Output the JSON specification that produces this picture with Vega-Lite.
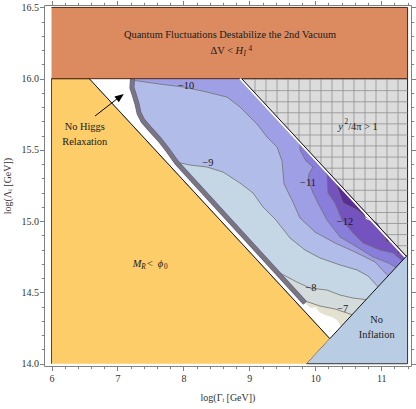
{
"$schema":"https://vega.github.io/schema/vega-lite/v6.json",
"width":367,"height":361,"autosize":{"type":"none"},
"padding":{"left":44,"top":5,"right":5,"bottom":43},
"background":"white",
"config":{"view":{"stroke":null},
"axis":{"grid":false,"domainColor":"#808080","tickColor":"#808080","labelColor":"#333333","labelFont":"Liberation Serif","labelFontSize":10,"titleFont":"Liberation Serif","titleFontSize":10,"titleFontWeight":"normal","titleColor":"#333333","labelFlush":false,"labelOverlap":false,"tickWidth":1,"domainWidth":1}},
"datasets":{
"reg":[
{"p":"r1","i":0,"x":6,"y":16},{"p":"r1","i":1,"x":11.4,"y":16},{"p":"r1","i":2,"x":11.4,"y":16.5},{"p":"r1","i":3,"x":6,"y":16.5},
{"p":"r2","i":0,"x":6,"y":14},{"p":"r2","i":1,"x":6,"y":16},{"p":"r2","i":2,"x":6.573,"y":16},{"p":"r2","i":3,"x":10.2215,"y":14.176},{"p":"r2","i":4,"x":9.87,"y":14},
{"p":"r3","i":0,"x":9.87,"y":14},{"p":"r3","i":1,"x":11.4,"y":14},{"p":"r3","i":2,"x":11.4,"y":14.765},{"p":"r3","i":3,"x":11.381,"y":14.754},
{"p":"r4","i":0,"x":8.884,"y":16},{"p":"r4","i":1,"x":11.4,"y":16},{"p":"r4","i":2,"x":11.4,"y":14.765},{"p":"r4","i":3,"x":11.381,"y":14.754}
],
"grid":[
{"x":9.086,"x2":9.086,"y":15.899,"y2":16},{"x":9.253,"x2":9.253,"y":15.8155,"y2":16},{"x":9.42,"x2":9.42,"y":15.732,"y2":16},{"x":9.587,"x2":9.587,"y":15.6485,"y2":16},{"x":9.754,"x2":9.754,"y":15.565,"y2":16},{"x":9.92,"x2":9.92,"y":15.482,"y2":16},{"x":10.087,"x2":10.087,"y":15.3985,"y2":16},{"x":10.254,"x2":10.254,"y":15.315,"y2":16},{"x":10.421,"x2":10.421,"y":15.2315,"y2":16},{"x":10.587,"x2":10.587,"y":15.1485,"y2":16},{"x":10.754,"x2":10.754,"y":15.065,"y2":16},{"x":10.921,"x2":10.921,"y":14.9815,"y2":16},{"x":11.088,"x2":11.088,"y":14.898,"y2":16},{"x":11.255,"x2":11.255,"y":14.8145,"y2":16},
{"x":9.052,"x2":11.4,"y":15.916,"y2":15.916},{"x":9.208,"x2":11.4,"y":15.838,"y2":15.838},{"x":9.362,"x2":11.4,"y":15.761,"y2":15.761},{"x":9.518,"x2":11.4,"y":15.683,"y2":15.683},{"x":9.674,"x2":11.4,"y":15.605,"y2":15.605},{"x":9.828,"x2":11.4,"y":15.528,"y2":15.528},{"x":9.984,"x2":11.4,"y":15.45,"y2":15.45},{"x":10.14,"x2":11.4,"y":15.372,"y2":15.372},{"x":10.294,"x2":11.4,"y":15.295,"y2":15.295},{"x":10.45,"x2":11.4,"y":15.217,"y2":15.217},{"x":10.606,"x2":11.4,"y":15.139,"y2":15.139},{"x":10.762,"x2":11.4,"y":15.061,"y2":15.061},{"x":10.916,"x2":11.4,"y":14.984,"y2":14.984},{"x":11.072,"x2":11.4,"y":14.906,"y2":14.906},{"x":11.228,"x2":11.4,"y":14.828,"y2":14.828}
],
"cf":[
{"p":"a0","i":0,"x":6.573,"y":16,"c":0},{"p":"a0","i":1,"x":8.884,"y":16,"c":0},{"p":"a0","i":2,"x":11.381,"y":14.754,"c":0},{"p":"a0","i":3,"x":10.2215,"y":14.176,"c":0},
{"p":"a1","i":0,"x":9.799,"y":14.447,"c":1},{"p":"a1","i":1,"x":10.072,"y":14.405,"c":1},{"p":"a1","i":2,"x":10.299,"y":14.384,"c":1},{"p":"a1","i":3,"x":10.557,"y":14.344,"c":1},{"p":"a1","i":4,"x":11.381,"y":14.754,"c":0},{"p":"a1","i":5,"x":8.884,"y":16,"c":0},{"p":"a1","i":6,"x":6.573,"y":16,"c":0},{"p":"a1","i":7,"x":9.679,"y":14.447,"c":0},
{"p":"a2","i":0,"x":9.24,"y":14.742,"c":1},{"p":"a2","i":1,"x":9.465,"y":14.636,"c":1},{"p":"a2","i":2,"x":9.723,"y":14.573,"c":1},{"p":"a2","i":3,"x":9.92,"y":14.531,"c":1},{"p":"a2","i":4,"x":10.178,"y":14.517,"c":1},{"p":"a2","i":5,"x":10.375,"y":14.482,"c":1},{"p":"a2","i":6,"x":10.572,"y":14.461,"c":1},{"p":"a2","i":7,"x":10.769,"y":14.45,"c":1},{"p":"a2","i":8,"x":11.381,"y":14.754,"c":0},{"p":"a2","i":9,"x":8.884,"y":16,"c":0},{"p":"a2","i":10,"x":6.573,"y":16,"c":0},{"p":"a2","i":11,"x":9.089,"y":14.742,"c":0},
{"p":"a3","i":0,"x":7.89,"y":15.415,"c":1},{"p":"a3","i":1,"x":8.1,"y":15.394,"c":1},{"p":"a3","i":2,"x":8.358,"y":15.38,"c":1},{"p":"a3","i":3,"x":8.601,"y":15.345,"c":1},{"p":"a3","i":4,"x":8.859,"y":15.268,"c":1},{"p":"a3","i":5,"x":9.056,"y":15.198,"c":1},{"p":"a3","i":6,"x":9.207,"y":15.1,"c":1},{"p":"a3","i":7,"x":9.405,"y":15.008,"c":1},{"p":"a3","i":8,"x":9.617,"y":14.882,"c":1},{"p":"a3","i":9,"x":9.844,"y":14.798,"c":1},{"p":"a3","i":10,"x":10.072,"y":14.742,"c":1},{"p":"a3","i":11,"x":10.375,"y":14.693,"c":1},{"p":"a3","i":12,"x":10.633,"y":14.658,"c":1},{"p":"a3","i":13,"x":10.8,"y":14.616,"c":1},{"p":"a3","i":14,"x":10.951,"y":14.54,"c":1},{"p":"a3","i":15,"x":11.381,"y":14.754,"c":0},{"p":"a3","i":16,"x":8.884,"y":16,"c":0},{"p":"a3","i":17,"x":6.573,"y":16,"c":0},{"p":"a3","i":18,"x":7.743,"y":15.415,"c":0},
{"p":"a4","i":0,"x":7.22,"y":15.99,"c":1},{"p":"a4","i":1,"x":7.645,"y":15.962,"c":1},{"p":"a4","i":2,"x":8.009,"y":15.941,"c":1},{"p":"a4","i":3,"x":8.358,"y":15.906,"c":1},{"p":"a4","i":4,"x":8.661,"y":15.871,"c":1},{"p":"a4","i":5,"x":8.859,"y":15.801,"c":1},{"p":"a4","i":6,"x":9.116,"y":15.682,"c":1},{"p":"a4","i":7,"x":9.268,"y":15.591,"c":1},{"p":"a4","i":8,"x":9.42,"y":15.521,"c":1},{"p":"a4","i":9,"x":9.496,"y":15.423,"c":1},{"p":"a4","i":10,"x":9.526,"y":15.261,"c":1},{"p":"a4","i":11,"x":9.647,"y":15.149,"c":1},{"p":"a4","i":12,"x":9.768,"y":15.023,"c":1},{"p":"a4","i":13,"x":9.996,"y":14.924,"c":1},{"p":"a4","i":14,"x":10.299,"y":14.847,"c":1},{"p":"a4","i":15,"x":10.603,"y":14.784,"c":1},{"p":"a4","i":16,"x":10.906,"y":14.714,"c":1},{"p":"a4","i":17,"x":11.103,"y":14.6165,"c":1},{"p":"a4","i":18,"x":11.381,"y":14.754,"c":0},{"p":"a4","i":19,"x":8.884,"y":16,"c":0},{"p":"a4","i":20,"x":7.22,"y":16,"c":0},
{"p":"a5","i":0,"x":9.768,"y":15.558,"c":1},{"p":"a5","i":1,"x":9.768,"y":15.501,"c":1},{"p":"a5","i":2,"x":9.859,"y":15.423,"c":1},{"p":"a5","i":3,"x":9.966,"y":15.381,"c":1},{"p":"a5","i":4,"x":9.905,"y":15.332,"c":1},{"p":"a5","i":5,"x":9.89,"y":15.29,"c":1},{"p":"a5","i":6,"x":9.966,"y":15.198,"c":1},{"p":"a5","i":7,"x":10.072,"y":15.1,"c":1},{"p":"a5","i":8,"x":10.178,"y":15.008,"c":1},{"p":"a5","i":9,"x":10.375,"y":14.889,"c":1},{"p":"a5","i":10,"x":10.633,"y":14.819,"c":1},{"p":"a5","i":11,"x":10.876,"y":14.749,"c":1},{"p":"a5","i":12,"x":11.103,"y":14.708,"c":1},{"p":"a5","i":13,"x":11.224,"y":14.677,"c":1},{"p":"a5","i":14,"x":11.381,"y":14.754,"c":0},
{"p":"a6","i":0,"x":10.148,"y":15.368,"c":1},{"p":"a6","i":1,"x":10.178,"y":15.324,"c":1},{"p":"a6","i":2,"x":10.193,"y":15.198,"c":1},{"p":"a6","i":3,"x":10.299,"y":15.128,"c":1},{"p":"a6","i":4,"x":10.405,"y":15.008,"c":1},{"p":"a6","i":5,"x":10.572,"y":14.917,"c":1},{"p":"a6","i":6,"x":10.724,"y":14.847,"c":1},{"p":"a6","i":7,"x":10.981,"y":14.798,"c":1},{"p":"a6","i":8,"x":11.178,"y":14.777,"c":1},{"p":"a6","i":9,"x":11.315,"y":14.7225,"c":1},{"p":"a6","i":10,"x":11.381,"y":14.754,"c":0},
{"p":"a7","i":0,"x":10.299,"y":15.2925,"c":1},{"p":"a7","i":1,"x":10.33,"y":15.24,"c":1},{"p":"a7","i":2,"x":10.421,"y":15.128,"c":1},{"p":"a7","i":3,"x":10.633,"y":15.079,"c":1},{"p":"a7","i":4,"x":10.784,"y":15.023,"c":1},{"p":"a7","i":5,"x":10.936,"y":14.988,"c":1},{"p":"a7","i":6,"x":11.027,"y":14.918,"c":1},{"p":"a7","i":7,"x":11.088,"y":14.847,"c":1},{"p":"a7","i":8,"x":11.133,"y":14.8755,"c":1},
{"p":"a8","i":0,"x":11.224,"y":14.83,"c":1},{"p":"a8","i":1,"x":11.254,"y":14.765,"c":1},{"p":"a8","i":2,"x":11.3,"y":14.792,"c":1},
{"p":"a9","i":0,"x":10.739,"y":15.0725,"c":0},{"p":"a9","i":1,"x":10.769,"y":15.015,"c":0},{"p":"a9","i":2,"x":10.86,"y":15.001,"c":0},{"p":"a9","i":3,"x":10.89,"y":14.997,"c":0}
],
"wb":[
{"p":"w","i":0,"x":6.573,"y":16},{"p":"w","i":1,"x":7.228,"y":16},{"p":"w","i":2,"x":7.22,"y":15.935},{"p":"w","i":3,"x":7.251,"y":15.893},{"p":"w","i":4,"x":7.297,"y":15.822},{"p":"w","i":5,"x":7.327,"y":15.759},{"p":"w","i":6,"x":7.388,"y":15.703},{"p":"w","i":7,"x":7.494,"y":15.647},{"p":"w","i":8,"x":7.645,"y":15.57},{"p":"w","i":9,"x":7.763,"y":15.5},{"p":"w","i":10,"x":7.9,"y":15.41},{"p":"w","i":11,"x":9.845,"y":14.426},{"p":"w","i":12,"x":9.935,"y":14.391},{"p":"w","i":13,"x":10.011,"y":14.398},{"p":"w","i":14,"x":10.057,"y":14.363},{"p":"w","i":15,"x":10.148,"y":14.342},{"p":"w","i":16,"x":10.254,"y":14.328},{"p":"w","i":17,"x":10.33,"y":14.307},{"p":"w","i":18,"x":10.39,"y":14.26},{"p":"w","i":19,"x":10.2215,"y":14.176},
{"p":"b","i":0,"x":7.228,"y":16},{"p":"b","i":1,"x":7.22,"y":15.935},{"p":"b","i":2,"x":7.251,"y":15.893},{"p":"b","i":3,"x":7.297,"y":15.822},{"p":"b","i":4,"x":7.327,"y":15.759},{"p":"b","i":5,"x":7.388,"y":15.703},{"p":"b","i":6,"x":7.494,"y":15.647},{"p":"b","i":7,"x":7.645,"y":15.57},{"p":"b","i":8,"x":7.763,"y":15.5},{"p":"b","i":9,"x":7.9,"y":15.41},{"p":"b","i":10,"x":9.845,"y":14.426}
],
"edges":[
{"p":"L","i":0,"x":6.573,"y":16},{"p":"L","i":1,"x":10.2215,"y":14.176},
{"p":"R","i":0,"x":8.884,"y":16},{"p":"R","i":1,"x":11.381,"y":14.754},
{"p":"B","i":0,"x":10.2215,"y":14.176},{"p":"B","i":1,"x":11.381,"y":14.754},
{"p":"W","i":0,"x":8.861,"y":16},{"p":"W","i":1,"x":11.366,"y":14.748}
],
"arrow":[{"x":6.66,"y":15.738,"x2":6.993,"y2":15.858,"hx":7.042,"hy":15.873}],
"tx":[
{"t":"Quantum Fluctuations Destabilize the 2nd Vacuum","x":8.707,"y":16.309,"k":"c"},
{"t":"No Higgs","x":6.504,"y":15.661,"k":"c"},
{"t":"Relaxation","x":6.504,"y":15.556,"k":"c"},
{"t":"No","x":10.932,"y":14.307,"k":"c"},
{"t":"Inflation","x":10.932,"y":14.202,"k":"c"},
{"t":"−10","x":8.04,"y":15.951,"k":"c"},
{"t":"−9","x":8.373,"y":15.408,"k":"c"},
{"t":"−11","x":9.89,"y":15.268,"k":"c"},
{"t":"−12","x":10.451,"y":14.994,"k":"c"},
{"t":"−8","x":9.935,"y":14.531,"k":"c"},
{"t":"−7","x":10.416,"y":14.384,"k":"c"},
{"t":"ΔV <","x":8.753,"y":16.171,"k":"r"},
{"t":"H","x":8.79,"y":16.171,"k":"i"},
{"t":"M","x":7.231,"y":14.676,"k":"i"},
{"t":"ϕ","x":7.61,"y":14.676,"k":"i"},
{"t":"y","x":10.35,"y":15.64,"k":"i"},
{"t":"<","x":7.45,"y":14.676,"k":"l"},
{"t":"/4π > 1","x":10.5,"y":15.64,"k":"l"},
{"t":"I","x":8.91,"y":16.156,"k":"si"},
{"t":"R","x":7.36,"y":14.665,"k":"si"},
{"t":"4","x":8.987,"y":16.193,"k":"s"},
{"t":"0","x":7.705,"y":14.663,"k":"s"},
{"t":"2","x":10.445,"y":15.681,"k":"s"}
]
},
"resolve":{"axis":{"x":"independent","y":"independent"}},
"layer":[
{"data":{"name":"reg"},"transform":[{"filter":"datum.p == 'r2'"}],"mark":{"type":"line","fill":"#FCCD69","stroke":"#5a4520","strokeWidth":1},
 "encoding":{"x":{"field":"x","type":"quantitative","scale":{"domain":[5.886,11.452],"nice":false,"zero":false},"axis":{"orient":"bottom","values":[6,7,8,9,10,11],"title":"log(Γᵢ [GeV])","tickSize":4.5,"labelPadding":3,"titlePadding":9}},
  "y":{"field":"y","type":"quantitative","scale":{"domain":[13.984,16.517],"nice":false,"zero":false},"axis":{"orient":"left","values":[14,14.5,15,15.5,16,16.5],"format":".1f","title":"log(Λᵢ [GeV])","tickSize":4.5,"labelPadding":1,"titlePadding":9}},
  "order":{"field":"i"}}},
{"data":{"name":"reg"},"transform":[{"filter":"datum.p == 'r3'"}],"mark":{"type":"line","fill":"#B8CCE4","stroke":"#333333","strokeWidth":1},
 "encoding":{"x":{"field":"x","type":"quantitative","scale":{"domain":[5.886,11.452],"nice":false,"zero":false},"axis":null},
  "y":{"field":"y","type":"quantitative","scale":{"domain":[13.984,16.517],"nice":false,"zero":false},"axis":null},"order":{"field":"i"}}},
{"data":{"name":"reg"},"transform":[{"filter":"datum.p == 'r4'"}],"mark":{"type":"line","fill":"#DCDCDC","stroke":"#222222","strokeWidth":1},
 "encoding":{"x":{"field":"x","type":"quantitative","scale":{"domain":[5.886,11.452],"nice":false,"zero":false},"axis":null},
  "y":{"field":"y","type":"quantitative","scale":{"domain":[13.984,16.517],"nice":false,"zero":false},"axis":null},"order":{"field":"i"}}},
{"data":{"name":"grid"},"mark":{"type":"rule","color":"#909090","strokeWidth":0.8},
 "encoding":{"x":{"field":"x","type":"quantitative","scale":{"domain":[5.886,11.452],"nice":false,"zero":false},"axis":{"orient":"top","values":[6,7,8,9,10,11],"labels":false,"title":null,"tickSize":4.5}},
  "x2":{"field":"x2"},
  "y":{"field":"y","type":"quantitative","scale":{"domain":[13.984,16.517],"nice":false,"zero":false},"axis":{"orient":"right","values":[14,14.5,15,15.5,16,16.5],"labels":false,"title":null,"tickSize":4.5}},
  "y2":{"field":"y2"}}},
{"data":{"name":"cf"},"mark":{"type":"line","strokeWidth":0,"strokeOpacity":0},
 "encoding":{"x":{"field":"x","type":"quantitative","scale":{"domain":[5.886,11.452],"nice":false,"zero":false},"axis":{"orient":"bottom","values":[6.2,6.4,6.6,6.8,7.2,7.4,7.6,7.8,8.2,8.4,8.6,8.8,9.2,9.4,9.6,9.8,10.2,10.4,10.6,10.8,11.2,11.4],"labels":false,"domain":false,"title":null,"tickSize":2.7}},
  "y":{"field":"y","type":"quantitative","scale":{"domain":[13.984,16.517],"nice":false,"zero":false},"axis":{"orient":"left","values":[14.1,14.2,14.3,14.4,14.6,14.7,14.8,14.9,15.1,15.2,15.3,15.4,15.6,15.7,15.8,15.9,16.1,16.2,16.3,16.4],"labels":false,"domain":false,"title":null,"tickSize":2.7}},
  "fill":{"field":"p","type":"nominal","scale":{"domain":["a0","a1","a2","a3","a4","a5","a6","a7","a8","a9"],"range":["#E3E1CF","#D3DBDB","#C5D7E5","#B1BDE8","#9F9FE6","#8A7EDC","#7553BE","#5B2B98","#5B2B98","#FFFFFF"]},"legend":null},
  "detail":{"field":"p"},"order":{"field":"i"}}},
{"data":{"name":"cf"},"transform":[{"filter":"datum.c == 1"}],"mark":{"type":"line","stroke":"#707070","strokeWidth":0.8},
 "encoding":{"x":{"field":"x","type":"quantitative","scale":{"domain":[5.886,11.452],"nice":false,"zero":false},"axis":{"orient":"top","values":[6.2,6.4,6.6,6.8,7.2,7.4,7.6,7.8,8.2,8.4,8.6,8.8,9.2,9.4,9.6,9.8,10.2,10.4,10.6,10.8,11.2,11.4],"labels":false,"domain":false,"title":null,"tickSize":2.7}},
  "y":{"field":"y","type":"quantitative","scale":{"domain":[13.984,16.517],"nice":false,"zero":false},"axis":{"orient":"right","values":[14.1,14.2,14.3,14.4,14.6,14.7,14.8,14.9,15.1,15.2,15.3,15.4,15.6,15.7,15.8,15.9,16.1,16.2,16.3,16.4],"labels":false,"domain":false,"title":null,"tickSize":2.7}},
  "detail":{"field":"p"},"order":{"field":"i"}}},
{"data":{"name":"wb"},"transform":[{"filter":"datum.p == 'w'"}],"mark":{"type":"line","fill":"#FFFFFF","strokeWidth":0,"strokeOpacity":0},
 "encoding":{"x":{"field":"x","type":"quantitative","scale":{"domain":[5.886,11.452],"nice":false,"zero":false},"axis":null},
  "y":{"field":"y","type":"quantitative","scale":{"domain":[13.984,16.517],"nice":false,"zero":false},"axis":null},"order":{"field":"i"}}},
{"data":{"name":"wb"},"transform":[{"filter":"datum.p == 'b'"}],"mark":{"type":"line","stroke":"#6B58A8","strokeWidth":5,"strokeJoin":"round"},
 "encoding":{"x":{"field":"x","type":"quantitative","scale":{"domain":[5.886,11.452],"nice":false,"zero":false},"axis":null},
  "y":{"field":"y","type":"quantitative","scale":{"domain":[13.984,16.517],"nice":false,"zero":false},"axis":null},"order":{"field":"i"}}},
{"data":{"name":"wb"},"transform":[{"filter":"datum.p == 'b'"}],"mark":{"type":"line","stroke":"#787878","strokeWidth":3.8,"strokeJoin":"round"},
 "encoding":{"x":{"field":"x","type":"quantitative","scale":{"domain":[5.886,11.452],"nice":false,"zero":false},"axis":null},
  "y":{"field":"y","type":"quantitative","scale":{"domain":[13.984,16.517],"nice":false,"zero":false},"axis":null},"order":{"field":"i"}}},
{"data":{"name":"reg"},"transform":[{"filter":"datum.p == 'r1'"}],"mark":{"type":"line","fill":"#DC8A5F","stroke":"#4a2a14","strokeWidth":1},
 "encoding":{"x":{"field":"x","type":"quantitative","scale":{"domain":[5.886,11.452],"nice":false,"zero":false},"axis":null},
  "y":{"field":"y","type":"quantitative","scale":{"domain":[13.984,16.517],"nice":false,"zero":false},"axis":null},"order":{"field":"i"}}},
{"data":{"name":"edges"},"transform":[{"filter":"datum.p == 'W'"}],"mark":{"type":"line","stroke":"#FFFFFF","strokeWidth":2},
 "encoding":{"x":{"field":"x","type":"quantitative","scale":{"domain":[5.886,11.452],"nice":false,"zero":false},"axis":null},
  "y":{"field":"y","type":"quantitative","scale":{"domain":[13.984,16.517],"nice":false,"zero":false},"axis":null},"order":{"field":"i"}}},
{"data":{"name":"edges"},"transform":[{"filter":"datum.p != 'W'"}],"mark":{"type":"line","stroke":"#111111","strokeWidth":1},
 "encoding":{"x":{"field":"x","type":"quantitative","scale":{"domain":[5.886,11.452],"nice":false,"zero":false},"axis":null},
  "y":{"field":"y","type":"quantitative","scale":{"domain":[13.984,16.517],"nice":false,"zero":false},"axis":null},"detail":{"field":"p"},"order":{"field":"i"}}},
{"data":{"name":"arrow"},"mark":{"type":"rule","color":"#000000","strokeWidth":1},
 "encoding":{"x":{"field":"x","type":"quantitative","scale":{"domain":[5.886,11.452],"nice":false,"zero":false},"axis":null},"x2":{"field":"x2"},
  "y":{"field":"y","type":"quantitative","scale":{"domain":[13.984,16.517],"nice":false,"zero":false},"axis":null},"y2":{"field":"y2"}}},
{"data":{"name":"arrow"},"mark":{"type":"point","shape":"M0,-1L0.8,1L-0.8,1Z","filled":true,"color":"#000000","size":81,"angle":53,"opacity":1},
 "encoding":{"x":{"field":"hx","type":"quantitative","scale":{"domain":[5.886,11.452],"nice":false,"zero":false},"axis":null},
  "y":{"field":"hy","type":"quantitative","scale":{"domain":[13.984,16.517],"nice":false,"zero":false},"axis":null}}},
{"data":{"name":"tx"},"transform":[{"filter":"datum.k == 'c'"}],"mark":{"type":"text","font":"Liberation Serif","fontSize":10.4,"color":"#1a1a1a","align":"center","baseline":"middle"},
 "encoding":{"x":{"field":"x","type":"quantitative","scale":{"domain":[5.886,11.452],"nice":false,"zero":false},"axis":null},
  "y":{"field":"y","type":"quantitative","scale":{"domain":[13.984,16.517],"nice":false,"zero":false},"axis":null},"text":{"field":"t"}}},
{"data":{"name":"tx"},"transform":[{"filter":"datum.k == 'r'"}],"mark":{"type":"text","font":"Liberation Serif","fontSize":10.4,"color":"#1a1a1a","align":"right","baseline":"alphabetic"},
 "encoding":{"x":{"field":"x","type":"quantitative","scale":{"domain":[5.886,11.452],"nice":false,"zero":false},"axis":null},
  "y":{"field":"y","type":"quantitative","scale":{"domain":[13.984,16.517],"nice":false,"zero":false},"axis":null},"text":{"field":"t"}}},
{"data":{"name":"tx"},"transform":[{"filter":"datum.k == 'l'"}],"mark":{"type":"text","font":"Liberation Serif","fontSize":10.4,"color":"#1a1a1a","align":"left","baseline":"alphabetic"},
 "encoding":{"x":{"field":"x","type":"quantitative","scale":{"domain":[5.886,11.452],"nice":false,"zero":false},"axis":null},
  "y":{"field":"y","type":"quantitative","scale":{"domain":[13.984,16.517],"nice":false,"zero":false},"axis":null},"text":{"field":"t"}}},
{"data":{"name":"tx"},"transform":[{"filter":"datum.k == 'i'"}],"mark":{"type":"text","font":"Liberation Serif","fontSize":10.4,"fontStyle":"italic","color":"#1a1a1a","align":"left","baseline":"alphabetic"},
 "encoding":{"x":{"field":"x","type":"quantitative","scale":{"domain":[5.886,11.452],"nice":false,"zero":false},"axis":null},
  "y":{"field":"y","type":"quantitative","scale":{"domain":[13.984,16.517],"nice":false,"zero":false},"axis":null},"text":{"field":"t"}}},
{"data":{"name":"tx"},"transform":[{"filter":"datum.k == 'si'"}],"mark":{"type":"text","font":"Liberation Serif","fontSize":7.2,"fontStyle":"italic","color":"#1a1a1a","align":"left","baseline":"alphabetic"},
 "encoding":{"x":{"field":"x","type":"quantitative","scale":{"domain":[5.886,11.452],"nice":false,"zero":false},"axis":null},
  "y":{"field":"y","type":"quantitative","scale":{"domain":[13.984,16.517],"nice":false,"zero":false},"axis":null},"text":{"field":"t"}}},
{"data":{"name":"tx"},"transform":[{"filter":"datum.k == 's'"}],"mark":{"type":"text","font":"Liberation Serif","fontSize":7.2,"color":"#1a1a1a","align":"left","baseline":"alphabetic"},
 "encoding":{"x":{"field":"x","type":"quantitative","scale":{"domain":[5.886,11.452],"nice":false,"zero":false},"axis":null},
  "y":{"field":"y","type":"quantitative","scale":{"domain":[13.984,16.517],"nice":false,"zero":false},"axis":null},"text":{"field":"t"}}}
]
}
